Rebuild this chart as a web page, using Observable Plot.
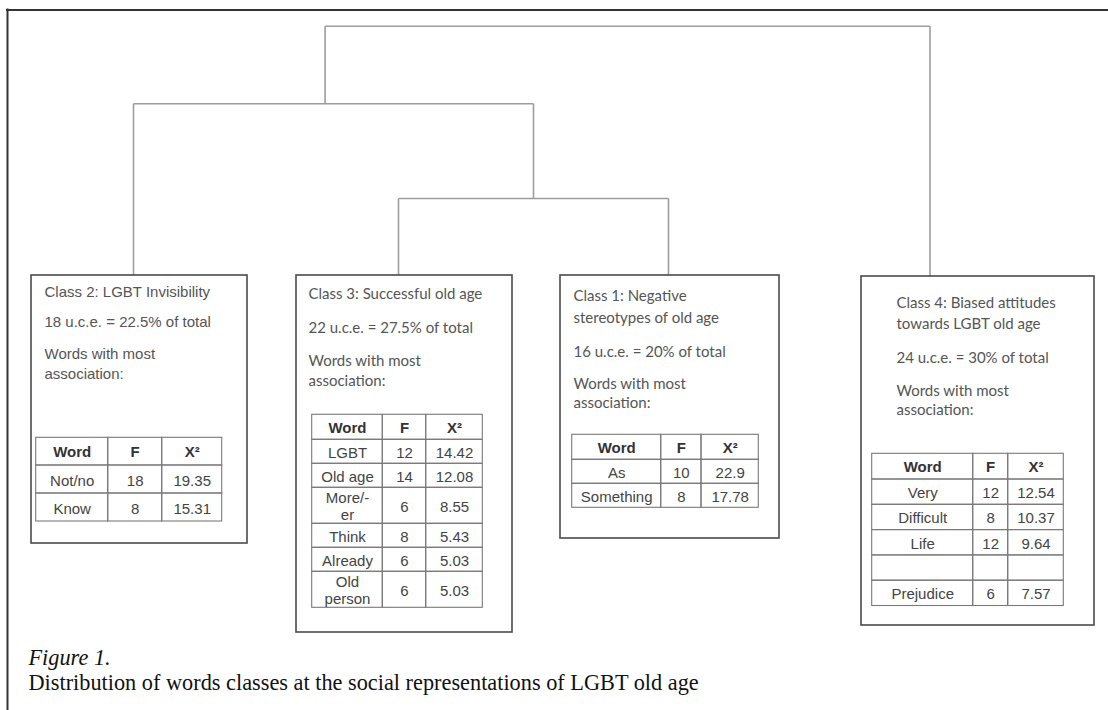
<!DOCTYPE html>
<html>
<head>
<meta charset="utf-8">
<script src="https://cdn.jsdelivr.net/npm/d3@7"></script>
<script src="https://cdn.jsdelivr.net/npm/@observablehq/plot@0.6"></script>
<style>
  html, body { margin: 0; padding: 0; background: #fff; }
  #chart svg { display: block; }
</style>
</head>
<body>
<div id="chart"></div>
<script>
// ---------------- DATA ----------------
const classIds = [2, 3, 1, 4];
const classNames = [
  "LGBT Invisibility",
  "Successful old age",
  "Negative stereotypes of old age",
  "Biased attitudes towards LGBT old age"
];
const uceCounts = [18, 22, 16, 24];
const uceShares = [22.5, 27.5, 20, 30];
const wordsLabel = "Words with most association:";
const tableHeader = ["Word", "F", "X²"];
const words = [
  ["Not/no", "Know"],
  ["LGBT", "Old age", "More/-er", "Think", "Already", "Old person"],
  ["As", "Something"],
  ["Very", "Difficult", "Life", "", "Prejudice"]
];
const freqs = [
  [18, 8],
  [12, 14, 6, 8, 6, 6],
  [10, 8],
  [12, 8, 12, null, 6]
];
const chiSquares = [
  [19.35, 15.31],
  [14.42, 12.08, 8.55, 5.43, 5.03, 5.03],
  [22.9, 17.78],
  [12.54, 10.37, 9.64, null, 7.57]
];
// dendrogram topology (leaves 0..3 in drawing order, merges numbered 4..6)
const linkage = [[1, 2], [0, 4], [5, 3]];
const captionLabel = "Figure 1.";
const captionText = "Distribution of words classes at the social representations of LGBT old age";

// ---------------- LAYOUT ----------------
const W = 1108, H = 710;
const ARIAL = "'Liberation Sans', Arial, Helvetica, sans-serif";
const HUMAN = "Lato, 'Open Sans', sans-serif";
const SERIF = "'Liberation Serif', 'Times New Roman', serif";
const frame = {x: 7, y: 9.5, stroke: "#333", width: 2};
const dendro = {
  leafX: [133, 398, 668, 929.5],
  mergeY: [198, 103.3, 25.7],
  mergeX: [533, 324.6, null]
};
const boxLayout = [
  {x1: 31, x2: 247, y1: 275, y2: 543, tx: 44, font: ARIAL, fs: 15, lhT: 1.3, lhW: 1.3, titleLW: 12.5,
   yTitle: 291.7, yUce: 321.7, yWords: 353.3,
   tx1: 35.7, cols: [72, 54, 60], ty1: 437.3, headH: 27.7, rowH: 28, extra: 12, tfs: 15},
  {x1: 296, x2: 512, y1: 275, y2: 632, tx: 308, font: HUMAN, fs: 15, lhT: 1.45, lhW: 1.33, titleLW: 16,
   yTitle: 293.3, yUce: 327.3, yWords: 360,
   tx1: 311.7, cols: [70.6, 43.4, 56.6], ty1: 414.3, headH: 25, rowH: 24, extra: 12, tfs: 15},
  {x1: 560, x2: 779, y1: 275, y2: 538, tx: 573, font: HUMAN, fs: 15, lhT: 1.47, lhW: 1.31, titleLW: 12.5,
   yTitle: 295.7, yUce: 351, yWords: 383,
   tx1: 571.7, cols: [89, 40.3, 57.3], ty1: 434.3, headH: 25, rowH: 24, extra: 12, tfs: 15},
  {x1: 861, x2: 1094, y1: 276, y2: 625, tx: 896, font: HUMAN, fs: 15, lhT: 1.4, lhW: 1.27, titleLW: 12.5,
   yTitle: 302.3, yUce: 357.7, yWords: 390,
   tx1: 871.7, cols: [101, 35, 55.6], ty1: 453.3, headH: 25.7, rowH: 25.3, extra: 12, tfs: 15}
];
const cellPad = 7.5;
const caption = {x: 28, y1: 657, y2: 682, fs: 22.3};

// ---------------- HELPERS ----------------
const ctx = document.createElement("canvas").getContext("2d");
function wrapText(text, font, maxW) {
  ctx.font = font;
  const pieces = String(text).split(/(?<=-)|(?<= )/);
  const lines = [];
  let line = "";
  for (const p of pieces) {
    const cand = line + p;
    if (line && ctx.measureText(cand.trimEnd()).width > maxW) {
      lines.push(line.trimEnd());
      line = p;
    } else line = cand;
  }
  lines.push(line.trimEnd());
  return lines;
}
// y for lineAnchor "top" so that the first line's visual centre sits at c
const topFor = (c, fs, lh) => c + 0.35 * fs - 0.71 * lh * fs;

// ---------------- MARKS ----------------
const marks = [];

// outer frame
marks.push(Plot.ruleX([frame.x], {y1: frame.y - 1, y2: H, stroke: frame.stroke, strokeWidth: frame.width}));
marks.push(Plot.ruleY([frame.y], {x1: frame.x - 1, x2: W, stroke: frame.stroke, strokeWidth: frame.width}));

// dendrogram
const nodeX = [...dendro.leafX];
const nodeY = boxLayout.map(b => b.y1);
const links = [];
linkage.forEach(([a, b], k) => {
  const y = dendro.mergeY[k];
  const xa = nodeX[a], xb = nodeX[b];
  links.push({x1: xa, y1: nodeY[a], x2: xa, y2: y});
  links.push({x1: xb, y1: nodeY[b], x2: xb, y2: y});
  links.push({x1: xa, y1: y, x2: xb, y2: y});
  nodeX.push(dendro.mergeX[k] ?? (xa + xb) / 2);
  nodeY.push(y);
});
marks.push(Plot.link(links, {x1: "x1", y1: "y1", x2: "x2", y2: "y2", stroke: "#9d9d9d", strokeWidth: 1.6}));

// class boxes
marks.push(Plot.rect(boxLayout, {x1: "x1", x2: "x2", y1: "y1", y2: "y2", fill: "white", stroke: "#4a4a4a", strokeWidth: 1.6}));

boxLayout.forEach((b, i) => {
  // paragraphs
  const title = `Class ${classIds[i]}: ${classNames[i]}`;
  const uce = `${uceCounts[i]} u.c.e. = ${uceShares[i]}% of total`;
  const common = {x: "x", y: "y", text: "t", textAnchor: "start", lineAnchor: "top",
                  fontFamily: b.font, fontSize: b.fs, fill: "#555"};
  marks.push(Plot.text([{x: b.tx, y: topFor(b.yTitle, b.fs, b.lhT), t: title}], {...common, lineHeight: b.lhT, lineWidth: b.titleLW}));
  marks.push(Plot.text([{x: b.tx, y: topFor(b.yUce, b.fs, 1), t: uce}], {...common, lineHeight: 1, lineWidth: 16}));
  marks.push(Plot.text([{x: b.tx, y: topFor(b.yWords, b.fs, b.lhW), t: wordsLabel}], {...common, lineHeight: b.lhW, lineWidth: 12.5}));

  // table
  const colX = [b.tx1];
  b.cols.forEach(w => colX.push(colX[colX.length - 1] + w));
  const cellFont = `${b.tfs}px 'Liberation Sans', Arial, sans-serif`;
  const rows = [tableHeader, ...words[i].map((w, r) => [w, freqs[i][r] ?? "", chiSquares[i][r] ?? ""])];
  const cells = [];
  let y = b.ty1;
  rows.forEach((row, r) => {
    const wrapped = row.map((v, c) => wrapText(v, cellFont, b.cols[c] - 2 * cellPad));
    const nLines = Math.max(...wrapped.map(l => l.length));
    const h = r === 0 ? b.headH : b.rowH + (nLines - 1) * b.extra;
    wrapped.forEach((lines, c) => {
      cells.push({x1: colX[c], x2: colX[c + 1], y1: y, y2: y + h,
                  xc: (colX[c] + colX[c + 1]) / 2, yc: y + h / 2 + 0.5,
                  t: lines.join("\n"), head: r === 0});
    });
    y += h;
  });
  marks.push(Plot.rect(cells, {x1: "x1", x2: "x2", y1: "y1", y2: "y2", fill: "none", stroke: "#7a7a7a", strokeWidth: 1.1}));
  marks.push(Plot.text(cells.filter(d => d.head), {x: "xc", y: "yc", text: "t", fontFamily: ARIAL, fontSize: b.tfs,
    fontWeight: "bold", fill: "#333", lineAnchor: "middle"}));
  marks.push(Plot.text(cells.filter(d => !d.head), {x: "xc", y: "yc", text: "t", fontFamily: ARIAL, fontSize: b.tfs,
    fill: "#444", lineAnchor: "middle", lineHeight: 1.15}));
});

// caption
marks.push(Plot.text([{x: caption.x, y: caption.y1, t: captionLabel}], {x: "x", y: "y", text: "t",
  textAnchor: "start", lineAnchor: "middle", fontFamily: SERIF, fontSize: caption.fs, fontStyle: "italic", fill: "#111"}));
marks.push(Plot.text([{x: caption.x, y: caption.y2, t: captionText}], {x: "x", y: "y", text: "t",
  textAnchor: "start", lineAnchor: "middle", fontFamily: SERIF, fontSize: caption.fs, fill: "#111"}));

const chart = Plot.plot({
  width: W,
  height: H,
  margin: 0,
  x: {domain: [0, W], range: [0, W], axis: null},
  y: {domain: [0, H], range: [0, H], axis: null},
  style: {background: "white"},
  marks
});
document.getElementById("chart").appendChild(chart);
</script>
</body>
</html>
